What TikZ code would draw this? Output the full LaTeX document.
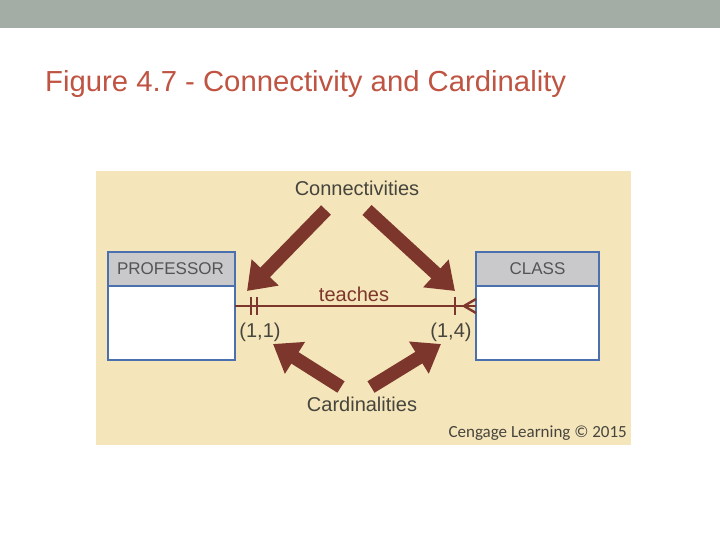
\documentclass[tikz,border=0pt]{standalone}
\usepackage{fontspec}
\setmainfont{Liberation Sans}
\newfontfamily\credfont{Carlito}
\usetikzlibrary{arrows.meta}
\definecolor{barcol}{rgb}{0.64,0.68,0.65}
\definecolor{titlecol}{rgb}{0.75,0.33,0.26}
\definecolor{panelcol}{rgb}{0.96,0.90,0.73}
\definecolor{arrowcol}{rgb}{0.49,0.21,0.17}
\definecolor{edgecol}{rgb}{0.29,0.44,0.69}
\definecolor{headcol}{rgb}{0.79,0.79,0.80}
\definecolor{labelcol}{rgb}{0.27,0.27,0.24}
\definecolor{boxtext}{rgb}{0.33,0.33,0.33}

\tikzset{
    bigarrow/.style={line width=13.5pt,color=arrowcol,-{Triangle[length=26pt,width=36pt]}},
    relline/.style={line width=2.4pt,color=arrowcol},
    boxhead/.style={draw=edgecol,line width=1.5pt,fill=headcol},
    boxbody/.style={draw=edgecol,line width=1.5pt,fill=white},
    lbl/.style={font=\fontsize{20}{20}\selectfont,text=labelcol,inner sep=0pt},
    boxlbl/.style={font=\fontsize{17}{17}\selectfont,text=boxtext,inner sep=0pt}
}

\begin{document}
\begin{tikzpicture}[x=1pt,y=-1pt]
    \useasboundingbox (0,0) rectangle (720,540);
    \fill[white] (0,0) rectangle (720,540);
    \fill[barcol] (0,0) rectangle (720,28);
    \node[anchor=base west,inner sep=0pt,text=titlecol,font=\fontsize{29}{29}\selectfont,xscale=1.01] (title) at (45,92) {Figure 4.7 - Connectivity and Cardinality};
    \fill[panelcol] (96,171) rectangle (631,445);

    % entity boxes
    \draw[boxbody] (108,286) rectangle (235,360);
    \draw[boxhead] (108,252) rectangle (235,286);
    \node[boxlbl] (prof) at (170.5,269) {PROFESSOR};
    \draw[boxbody] (476,286) rectangle (599,360);
    \draw[boxhead] (476,252) rectangle (599,286);
    \node[boxlbl] (class) at (537.5,269) {CLASS};
    \coordinate (pend) at (235,306);
    \coordinate (cend) at (476,306);

    % relationship line
    \draw[relline] (pend) -- (cend);
    \draw[relline] (251,297) -- (251,315);
    \draw[relline] (257,297) -- (257,315);
    \draw[relline] (455,297) -- (455,315);
    \draw[relline] (464,306) -- (476,299);
    \draw[relline] (464,306) -- (476,313);
    \node[lbl,text=arrowcol] (teaches) at (354,294) {teaches};
    \node[lbl] (c11) at (260,332) {(1,1)};
    \node[lbl] (c14) at (451,332) {(1,4)};

    % annotations
    \node[lbl] (conn) at (357,188) {Connectivities};
    \node[lbl] (card) at (362,404) {Cardinalities};
    \coordinate (connL) at (326,210);
    \coordinate (connR) at (367,210);
    \coordinate (tipL) at (247,291);
    \coordinate (tipR) at (455,291);
    \coordinate (cardL) at (341,387);
    \coordinate (cardR) at (371,387);
    \coordinate (tipA) at (273,344);
    \coordinate (tipB) at (441,344);
    \draw[bigarrow] (connL) -- (tipL);
    \draw[bigarrow] (connR) -- (tipR);
    \draw[bigarrow] (cardL) -- (tipA);
    \draw[bigarrow] (cardR) -- (tipB);

    \node[anchor=base east,inner sep=0pt,text=labelcol,font=\credfont\fontsize{17}{17}\selectfont] (cred) at (627,437) {Cengage Learning \textcopyright{} 2015};
\end{tikzpicture}
\end{document}
